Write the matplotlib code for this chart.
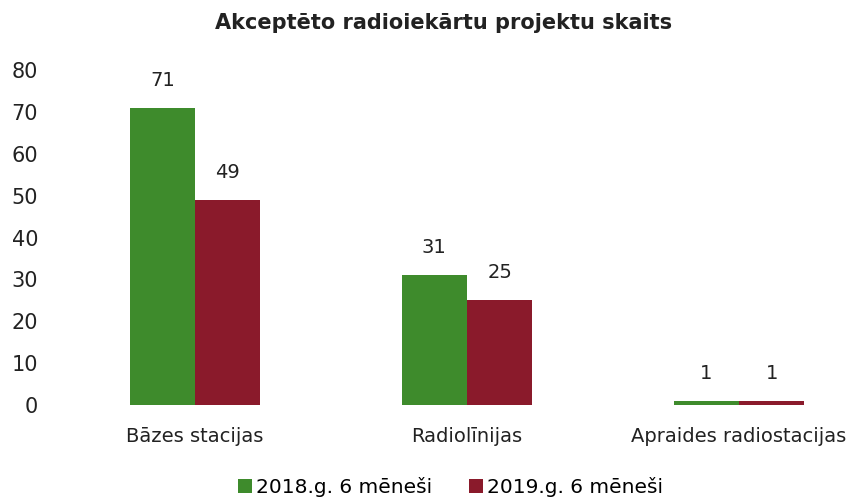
import numpy as np
import matplotlib.pyplot as plt

categories = ["Bāzes stacijas", "Radiolīnijas", "Apraides radiostacijas"]
values_2018 = [71, 31, 1]
values_2019 = [49, 25, 1]
series_names = ["2018.g. 6 mēneši", "2019.g. 6 mēneši"]
y_ticks = [0, 10, 20, 30, 40, 50, 60, 70, 80]

green = "#3e8b2c"
red = "#8a1a2b"

fig = plt.figure(figsize=(8.5, 5.01), dpi=100)
ax = fig.add_axes([59 / 850, 96 / 501, 1 - 59 / 850, 335 / 501])

x = np.arange(len(categories))
w = 0.24
b1 = ax.bar(x - w / 2, values_2018, w, color=green, label=series_names[0])
b2 = ax.bar(x + w / 2, values_2019, w, color=red, label=series_names[1])
for bars in (b1, b2):
    ax.bar_label(bars, padding=13, fontsize=14, color="#222222")

ax.set_xlim(-0.5, (850 - 195) / 272)
ax.set_ylim(0, 80)
ax.set_yticks(y_ticks)
ax.set_xticks(x)
ax.set_xticklabels(categories, fontsize=14)
ax.tick_params(axis="both", length=0, colors="#222222")
ax.tick_params(axis="y", pad=15, labelsize=15)
ax.tick_params(axis="x", pad=16)
for s in ax.spines.values():
    s.set_visible(False)

fig.text(0.522, 0.955, "Akceptēto radioiekārtu projektu skaits", ha="center", va="center",
         fontsize=15, fontweight="bold", color="#222222")
fig.legend(loc="center", bbox_to_anchor=(0.53, 0.028), ncol=2, frameon=False, fontsize=14.5,
           handlelength=0.7, handleheight=0.7, handletextpad=0.2, columnspacing=1.8)

plt.savefig("out.png", dpi=100)
